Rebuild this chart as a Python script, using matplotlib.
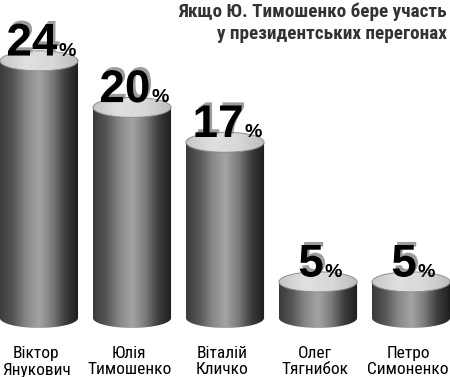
import numpy as np
import matplotlib.pyplot as plt
import matplotlib.patheffects as pe
from matplotlib.patches import Ellipse, Polygon
from matplotlib.colors import LinearSegmentedColormap

# data
candidates = ["Віктор\nЯнукович", "Юлія\nТимошенко", "Віталій\nКличко",
              "Олег\nТягнибок", "Петро\nСимоненко"]
values = [24, 20, 17, 5, 5]
title = "Якщо Ю. Тимошенко бере участь\nу президентських перегонах"

plt.rcParams['font.family'] = ['Roboto Condensed', 'DejaVu Sans']
num_font = ['Liberation Sans', 'DejaVu Sans']

fig = plt.figure(figsize=(4.5, 3.77), dpi=100)
ax = fig.add_axes([0, 0, 1, 1])

# cylinder look
W = 0.84      # width in category units
RY = 0.86     # ellipse half height in value units
BASE = 1.9    # where the cylinders sit
body_cmap = LinearSegmentedColormap.from_list(
    'body', ['#3a3a3a', '#565656', '#888888', '#a4a4a4', '#7a7a7a', '#3c3c3c', '#1c1c1c'])
top_cmap = LinearSegmentedColormap.from_list(
    'top', ['#c6c6c6', '#e0e0e0', '#d8d8d8', '#bcbcbc'])
grad = np.linspace(0, 1, 256).reshape(1, -1)

for i, v in enumerate(values):
    x0, x1 = i - W / 2, i + W / 2
    # body: rectangle plus lower half of the bottom ellipse
    t = np.linspace(np.pi, 2 * np.pi, 80)
    verts = list(zip(i + W / 2 * np.cos(t), BASE + RY * np.sin(t)))
    verts += [(x1, v), (x0, v)]
    body = Polygon(verts, closed=True, facecolor='none', edgecolor='none')
    ax.add_patch(body)
    im = ax.imshow(grad, cmap=body_cmap, aspect='auto', interpolation='bicubic',
                   extent=[x0, x1, BASE - RY, v], zorder=1)
    im.set_clip_path(body)

    # top face
    top = Ellipse((i, v), W, 2 * RY, facecolor='none', edgecolor='#8e8e8e',
                  lw=0.7, zorder=3)
    ax.add_patch(top)
    im2 = ax.imshow(grad, cmap=top_cmap, aspect='auto', interpolation='bicubic',
                    extent=[x0, x1, v - RY, v + RY], zorder=2)
    im2.set_clip_path(top)

    # value label
    num = ax.annotate(str(v), xy=(i, v), xytext=(-5, 3.8), textcoords='offset points',
                      ha='center', va='baseline', fontsize=33, fontweight='bold',
                      family=num_font, color='black', zorder=5,
                      path_effects=[pe.withSimplePatchShadow(offset=(1.8, 2.2),
                                                             shadow_rgbFace='#9c9c9c', alpha=1)])
    ax.annotate('%', xy=(1, 0), xycoords=num, xytext=(0.5, 7.2),
                textcoords='offset points', ha='left', va='baseline',
                fontsize=14, fontweight='bold', family=num_font,
                color='black', zorder=5)

    # candidate name under the cylinder
    ax.annotate(candidates[i], xy=(i, 2.5 / 377), xycoords=ax.get_xaxis_transform(),
                xytext=(-2, 0), textcoords='offset points',
                ha='center', va='baseline', fontsize=12.5, color='black', linespacing=1.15)

ax.set_xlim(-0.419, 4.419)
ax.set_ylim(-3.18, 29.23)
ax.axis('off')

fig.text(0.994, 1 - 39 / 377, title, ha='right', va='baseline', fontsize=13.8,
         fontweight='bold', color='#333333', linespacing=1.32)

fig.savefig('out.png', dpi=100)
